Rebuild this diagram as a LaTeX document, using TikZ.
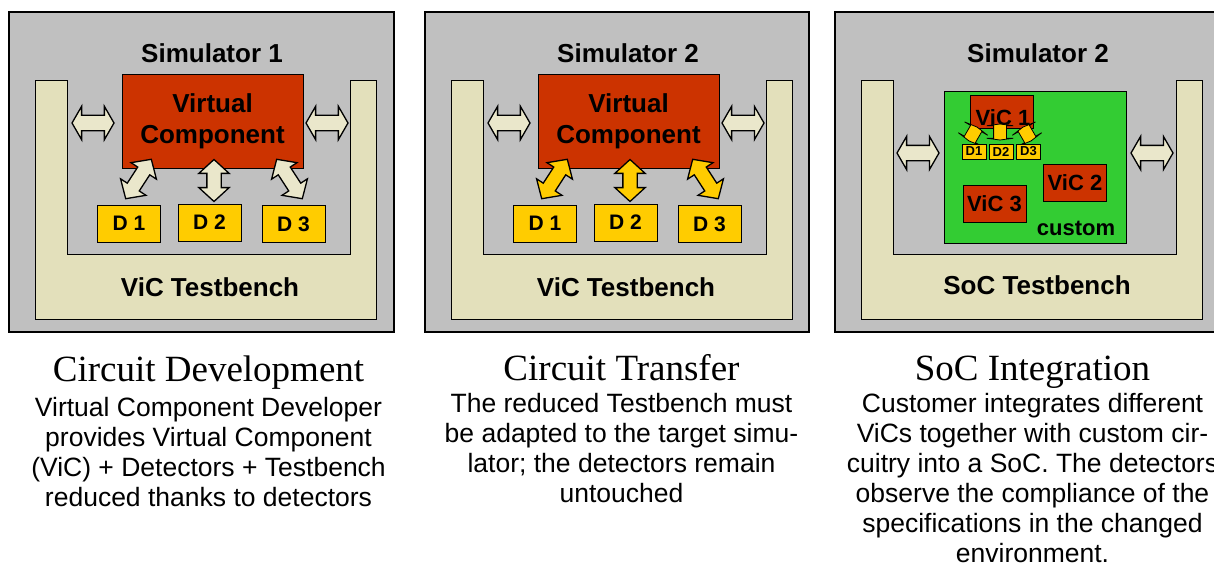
\documentclass[tikz,border=0pt]{standalone}
\usepackage{fontspec}
\setmainfont{Liberation Sans}
\newfontfamily\headfont{Liberation Serif}
\usetikzlibrary{shapes.arrows}
\definecolor{simgray}{RGB}{192,192,192}
\definecolor{benchbeige}{RGB}{227,224,187}
\definecolor{arrbeige}{RGB}{234,231,203}
\definecolor{vcred}{RGB}{204,51,0}
\definecolor{detyellow}{RGB}{255,204,0}
\definecolor{socgreen}{RGB}{51,204,51}
\tikzset{
  simbox/.style  ={draw, fill=simgray, line width=1.3pt},
  bench/.style   ={draw, fill=benchbeige, line width=1pt},
  vc/.style      ={draw, fill=vcred, line width=1pt, align=center, inner sep=0pt,
                   font=\bfseries\fontsize{26}{31}\selectfont},
  vic/.style     ={draw, fill=vcred, line width=1pt, inner sep=0pt,
                   minimum width=63pt, minimum height=37pt,
                   font=\bfseries\fontsize{22}{24}\selectfont},
  det/.style     ={draw, fill=detyellow, line width=1pt, inner sep=0pt,
                   minimum width=63pt, minimum height=37pt,
                   font=\bfseries\fontsize{21}{24}\selectfont},
  smalldet/.style={draw, fill=detyellow, line width=0.8pt, inner sep=0pt,
                   minimum width=24pt, minimum height=15pt,
                   font=\bfseries\fontsize{13}{14}\selectfont},
  lbl/.style     ={font=\bfseries\fontsize{26}{30}\selectfont, inner sep=0pt},
  dblarr/.style  ={double arrow, draw, line width=1.3pt, fill=arrbeige,
                   double arrow head extend=9pt, double arrow tip angle=120,
                   inner sep=7pt, minimum width=0pt, minimum height=42pt},
  detarr/.style  ={dblarr, double arrow head extend=8pt, double arrow tip angle=95,
                   inner sep=6.5pt},
  tinyarr/.style ={double arrow, draw, line width=0.8pt, fill=detyellow,
                   double arrow head extend=7pt, double arrow tip angle=165,
                   inner sep=6pt, minimum width=0pt, minimum height=16pt},
  title/.style   ={font=\headfont\fontsize{37}{40}\selectfont, inner sep=0pt},
  body/.style    ={font=\fontsize{26.5}{30}\selectfont, align=center, inner sep=0pt},
}

\begin{document}
\begin{tikzpicture}[x=1pt, y=-1pt]
  \clip (0,0) rectangle (1214,567);

  % panel 1: circuit development
  \begin{scope}
    \draw[simbox] (9,12) rectangle (394,332);
    \draw[bench] (35,81) -- (67,81) -- (67,254) -- (350,254) -- (350,81)
      -- (376,81) -- (376,319) -- (35,319) -- cycle;
    \node[lbl] (p1sim)   at (212,53)  {Simulator 1};
    \node[lbl] (p1bench) at (210,287) {ViC Testbench};
    \node[vc, minimum width=181pt, minimum height=93pt] (p1vc) at (212.5,121.5)
      {Virtual\\Component};
    \node[det] (p1d1) at (129,223.5) {D 1};
    \node[det] (p1d2) at (209.5,222.5) {D 2};
    \node[det] (p1d3) at (293.5,224) {D 3};
    \node[dblarr] (p1al) at (93,123) {};
    \node[dblarr] (p1ar) at (327,123) {};
    \node[detarr, minimum height=47pt, rotate=57]  (p1a1) at (138.5,179) {};
    \node[detarr, rotate=90]                       (p1a2) at (214,180.5) {};
    \node[detarr, minimum height=47pt, rotate=-57] (p1a3) at (289.5,179) {};
  \end{scope}

  % panel 2: circuit transfer
  \begin{scope}[shift={(416,0)}]
    \draw[simbox] (9,12) rectangle (393,332);
    \draw[bench] (35,81) -- (67,81) -- (67,254) -- (350,254) -- (350,81)
      -- (376,81) -- (376,319) -- (35,319) -- cycle;
    \node[lbl] (p2sim)   at (212,53)  {Simulator 2};
    \node[lbl] (p2bench) at (210,287) {ViC Testbench};
    \node[vc, minimum width=181pt, minimum height=93pt] (p2vc) at (212.5,121.5)
      {Virtual\\Component};
    \node[det] (p2d1) at (129,223.5) {D 1};
    \node[det] (p2d2) at (209.5,222.5) {D 2};
    \node[det] (p2d3) at (293.5,224) {D 3};
    \node[dblarr] (p2al) at (93,123) {};
    \node[dblarr] (p2ar) at (327,123) {};
    \node[detarr, fill=detyellow, minimum height=47pt, rotate=57]  (p2a1) at (138.5,179) {};
    \node[detarr, fill=detyellow, rotate=90]                       (p2a2) at (214,180.5) {};
    \node[detarr, fill=detyellow, minimum height=47pt, rotate=-57] (p2a3) at (289.5,179) {};
  \end{scope}

  % panel 3: SoC integration
  \begin{scope}[shift={(826,0)}]
    \draw[simbox] (9,12) rectangle (394,332);
    \draw[bench] (35,81) -- (67,81) -- (67,254) -- (350,254) -- (350,81)
      -- (376,81) -- (376,319) -- (35,319) -- cycle;
    \node[lbl] (p3sim)   at (212,53)  {Simulator 2};
    \node[lbl] (p3bench) at (211,285) {SoC Testbench};
    \node[draw, fill=socgreen, line width=1pt, minimum width=182pt,
          minimum height=151pt] (p3soc) at (209,167.5) {};
    \node[vic, minimum height=32pt] (vic1) at (175.5,112) {};
    \node[lbl, font=\bfseries\fontsize{22}{24}\selectfont] (vic1txt) at (177,118) {ViC 1};
    \node[vic] (vic2) at (249,182.5) {ViC 2};
    \node[vic] (vic3) at (168.5,203.5) {ViC 3};
    \node[lbl, font=\bfseries\fontsize{22}{24}\selectfont] (custom) at (250,228) {custom};
    \node[tinyarr, rotate=60]  (p3a1) at (147,134) {};
    \node[tinyarr, rotate=90]  (p3a2) at (174,132) {};
    \node[tinyarr, rotate=120] (p3a3) at (201,134) {};
    \node[smalldet] (p3d1) at (148,151.5)   {D1};
    \node[smalldet] (p3d2) at (175,151.5)   {D2};
    \node[smalldet] (p3d3) at (202.5,151.5) {D3};
    \node[dblarr] (p3al) at (92,153)  {};
    \node[dblarr] (p3ar) at (326,153) {};
  \end{scope}

  % captions (a multi-line node sits on its last baseline)
  \node[title, anchor=base] (cap1) at (208.5,381) {Circuit Development};
  \node[body, anchor=base] (txt1) at (208.5,506)
    {Virtual Component Developer\\provides Virtual Component\\(ViC) + Detectors + Testbench\\reduced thanks to detectors};
  \node[title, anchor=base] (cap2) at (621.5,380) {Circuit Transfer};
  \node[body, anchor=base] (txt2) at (621.5,502)
    {The reduced Testbench must\\be adapted to the target simu-\\lator; the detectors remain\\untouched};
  \node[title, anchor=base] (cap3) at (1032.5,380) {SoC Integration};
  \node[body, anchor=base] (txt3) at (1032.5,562)
    {Customer integrates different\\ViCs together with custom cir-\\cuitry into a SoC. The detectors\\observe the compliance of the\\specifications in the changed\\environment.};
\end{tikzpicture}
\end{document}
